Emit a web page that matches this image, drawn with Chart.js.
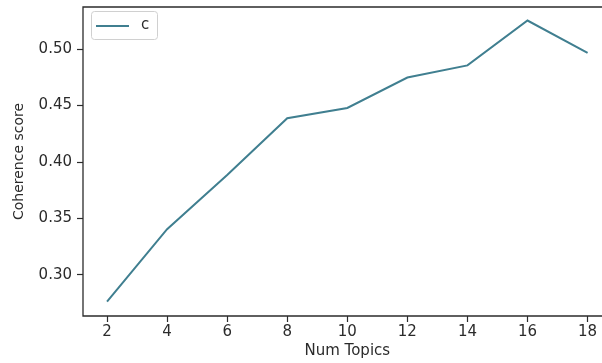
<!DOCTYPE html>
<html>
<head>
<meta charset="utf-8">
<script src="https://cdn.jsdelivr.net/npm/chart.js@4"></script>
<style>
  html, body { margin: 0; padding: 0; background: #fff; overflow: hidden; }
  #wrap { width: 614px; height: 363px; }
</style>
</head>
<body>
<div id="wrap"><canvas id="coherenceChart" width="614" height="363"></canvas></div>
<script>
// values
const numTopics = [2, 4, 6, 8, 10, 12, 14, 16, 18];
const coherence = [0.2765, 0.3405, 0.3885, 0.4388, 0.4478, 0.4748, 0.4855, 0.5252, 0.4965];
const xTicks = [2, 4, 6, 8, 10, 12, 14, 16, 18];
const yTicks = [0.30, 0.35, 0.40, 0.45, 0.50];
const seriesName = 'c';

const lineColor = '#407f90';
const inkColor = '#2b2b2b';
const fontFamily = '"DejaVu Sans", sans-serif';

// top, left and bottom spines (the right one falls outside the picture)
const spines = {
  id: 'spines',
  afterDatasetsDraw(chart) {
    const { ctx, chartArea: a } = chart;
    ctx.save();
    ctx.strokeStyle = inkColor;
    ctx.lineWidth = 1.3;
    ctx.beginPath();
    ctx.moveTo(a.right + 2, a.top);
    ctx.lineTo(a.left, a.top);
    ctx.lineTo(a.left, a.bottom);
    ctx.lineTo(a.right + 2, a.bottom);
    ctx.stroke();
    ctx.restore();
  }
};

// legend box in the upper left corner of the axes
const cornerLegend = {
  id: 'cornerLegend',
  afterDraw(chart) {
    const { ctx, chartArea: a } = chart;
    const ds = chart.data.datasets[0];
    const x = a.left + 8, y = a.top + 4, w = 66, h = 28;
    ctx.save();
    ctx.fillStyle = 'rgba(255,255,255,0.85)';
    ctx.strokeStyle = '#d0d0d0';
    ctx.lineWidth = 1;
    ctx.beginPath();
    ctx.roundRect(x + 0.5, y + 0.5, w, h, 3);
    ctx.fill();
    ctx.stroke();
    ctx.strokeStyle = ds.borderColor;
    ctx.lineWidth = 2;
    ctx.beginPath();
    ctx.moveTo(x + 5, y + 15);
    ctx.lineTo(x + 38, y + 15);
    ctx.stroke();
    ctx.fillStyle = inkColor;
    ctx.font = '15px ' + fontFamily;
    ctx.textBaseline = 'middle';
    ctx.fillText(ds.label, x + 50, y + 14);
    ctx.restore();
  }
};

const ctx = document.getElementById('coherenceChart').getContext('2d');
new Chart(ctx, {
  type: 'line',
  data: {
    datasets: [{
      label: seriesName,
      data: numTopics.map((t, i) => ({ x: t, y: coherence[i] })),
      borderColor: lineColor,
      borderWidth: 2,
      pointRadius: 0,
      tension: 0,
      fill: false
    }]
  },
  options: {
    responsive: false,
    animation: false,
    layout: { padding: { top: 7, right: 2.4, left: 0, bottom: 0 } },
    plugins: {
      legend: { display: false },
      tooltip: { enabled: false }
    },
    scales: {
      x: {
        type: 'linear',
        min: 1.2,
        max: 18.8,
        afterBuildTicks: s => { s.ticks = xTicks.map(v => ({ value: v })); },
        afterFit: s => { s.height = 47; s.paddingLeft = 0; s.paddingRight = 0; },
        grid: { drawOnChartArea: false, drawTicks: true, tickLength: 6, color: inkColor, tickWidth: 1.2 },
        border: { display: false },
        ticks: { color: inkColor, font: { family: fontFamily, size: 15 }, padding: 1, maxRotation: 0 },
        title: { display: true, text: 'Num Topics', color: inkColor, font: { family: fontFamily, size: 15 }, padding: { top: 0, bottom: 3 } }
      },
      y: {
        min: 0.2637,
        max: 0.5372,
        afterBuildTicks: s => { s.ticks = yTicks.map(v => ({ value: v })); },
        afterFit: s => { s.width = 83; s.paddingTop = 0; s.paddingBottom = 0; },
        grid: { drawOnChartArea: false, drawTicks: true, tickLength: 6, color: inkColor, tickWidth: 1.2 },
        border: { display: false },
        ticks: { color: inkColor, font: { family: fontFamily, size: 15 }, padding: 5, callback: v => v.toFixed(2) },
        title: { display: true, text: 'Coherence score', color: inkColor, font: { family: fontFamily, size: 14 }, padding: { top: 11, bottom: 0 } }
      }
    }
  },
  plugins: [spines, cornerLegend]
});
</script>
</body>
</html>
